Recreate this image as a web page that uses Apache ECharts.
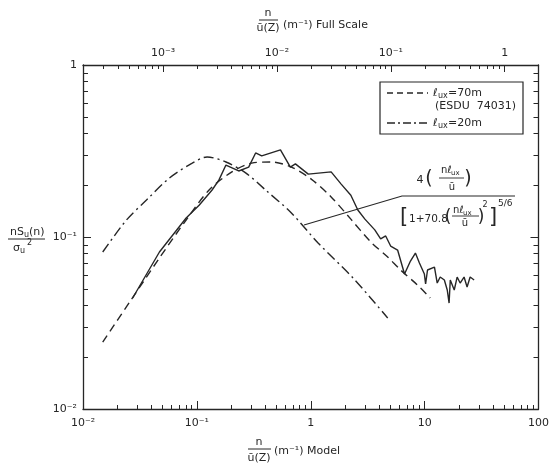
<!DOCTYPE html>
<html><head><meta charset="utf-8">
<script src="https://cdn.jsdelivr.net/npm/echarts@6/dist/echarts.min.js"></script>
<style>html,body{margin:0;padding:0;background:#fff}#c{width:552px;height:467px}</style>
</head><body><div id="c"></div>
<script>
// ---- data ----
// model-scale frequency n/u(Z) [1/m] vs normalised spectrum nSu(n)/sigma_u^2
const measX = [0.0273,0.0469,0.0805,0.1046,0.136,0.156,0.180,0.233,0.285,0.328,0.371,0.542,0.662,0.733,0.951,1.51,1.85,2.25,2.59,2.99,3.65,4.11,4.55,5.03,5.79,6.66,7.51,8.30,9.00,9.95,10.2,10.6,12.2,12.9,13.7,14.9,15.8,16.4,16.8,18.2,19.3,20.5,22.2,23.6,25.1,27.2];
const measY = [0.0442,0.0818,0.129,0.153,0.1876,0.214,0.262,0.242,0.255,0.308,0.296,0.321,0.255,0.266,0.232,0.239,0.203,0.175,0.1436,0.127,0.110,0.0974,0.1014,0.0886,0.0840,0.0609,0.0725,0.0807,0.0706,0.0609,0.0533,0.0643,0.0669,0.0540,0.0585,0.0562,0.0492,0.0413,0.0562,0.0492,0.0585,0.0540,0.0585,0.0512,0.0585,0.0562];
const lux70X = [0.0149,0.0257,0.0469,0.0805,0.128,0.203,0.303,0.453,0.676,1.01,1.51,2.25,3.37,4.74,6.15,8.65,11.2];
const lux70Y = [0.0245,0.0419,0.0755,0.1256,0.1876,0.239,0.269,0.273,0.255,0.217,0.171,0.127,0.0935,0.0765,0.0643,0.0526,0.0442];
const lux20X = [0.0149,0.0241,0.0361,0.0573,0.091,0.123,0.180,0.268,0.401,0.676,1.16,2.35,4.74];
const lux20Y = [0.0818,0.1256,0.164,0.220,0.269,0.292,0.273,0.236,0.1876,0.138,0.0923,0.0578,0.0338];
// axes
const bottomMajor = [0.01, 0.1, 1, 10, 100];
const topMajor = [0.001, 0.01, 0.1, 1];
const yMajor = [0.01, 0.1, 1];
const minorMult = [2,3,4,5,6,7,8,9];
const scaleRatio = 50.5; // model n/u divided by this gives full-scale n/u
const supLabels = {'-4':'10⁻⁴','-3':'10⁻³','-2':'10⁻²','-1':'10⁻¹','0':'1','1':'10','2':'100'};

// ---- build ----
const minorOf = decs => { const o=[]; decs.forEach(d=>minorMult.forEach(m=>o.push(+(d*m).toPrecision(6)))); return o; };
const fmt = v => supLabels[String(Math.round(Math.log10(v)))] || '';
const INK = '#262626';
const FONT = 'DejaVu Sans';
const zip = (a,b) => a.map((v,i)=>[v,b[i]]);

function ax(pos, min, max, ticks, len, labels, showLine, margin) {
  return {
    type:'log', logBase:10, position:pos, min:min, max:max,
    axisLine:{show:showLine, lineStyle:{color:INK, width:1.3}},
    axisTick:{show:true, inside:true, length:len, customValues:ticks, lineStyle:{color:INK, width:1}},
    axisLabel:{show:!!labels, customValues:ticks, formatter:fmt, color:INK, fontSize:11, fontFamily:FONT, margin:margin||8},
    splitLine:{show:false}, minorTick:{show:false}, minorSplitLine:{show:false}
  };
}
const xMin=0.01, xMax=100, yMin=0.01, yMax=1;
const topMin = xMin/scaleRatio, topMax = xMax/scaleRatio;

const xAxis = [
  ax('bottom', xMin, xMax, bottomMajor, 8, true, true, 9),
  ax('bottom', xMin, xMax, minorOf([0.01,0.1,1,10]), 4, false, false),
  ax('top', topMin, topMax, topMajor, 7, true, true, 6),
  ax('top', topMin, topMax, minorOf([0.0001,0.001,0.01,0.1,1]), 4, false, false)
];
const yAxis = [
  ax('left', yMin, yMax, yMajor, 8, true, true, 6),
  ax('left', yMin, yMax, minorOf([0.01,0.1]), 5, false, false),
  ax('right', yMin, yMax, yMajor, 8, false, true),
  ax('right', yMin, yMax, minorOf([0.01,0.1]), 5, false, false)
];

function T(x,y,text,size,align,extra){
  return Object.assign({type:'text', x:x, y:y, silent:true, z:100,
    style:{text:text, fill:INK, font:(size||11)+'px "'+FONT+'"', textAlign:align||'left', textVerticalAlign:'middle'}}, extra||{});
}
function L(x1,y1,x2,y2,w,dash){
  return {type:'line', silent:true, z:100, shape:{x1:x1,y1:y1,x2:x2,y2:y2}, style:{stroke:INK, lineWidth:w||1, lineDash:dash||null}};
}
function PL(points,w){
  return {type:'polyline', silent:true, z:100, shape:{points:points}, style:{stroke:INK, lineWidth:w||1, fill:null}};
}

const graphic = [
  // left axis title
  T(10,232,'nS',11), T(24,235,'u',8), T(29,232,'(n)',11),
  L(8,239,45,239,1),
  T(13,248,'σ',11), T(20,251,'u',8), T(27,243,'2',8),
  // top axis title
  T(268,13,'n',11,'center'), L(259,20,278,20,1), T(268,28,'ū(Z)',11,'center'),
  T(283,25,'(m⁻¹) Full Scale',11),
  // bottom axis title
  T(259,442,'n',11,'center'), L(248,449,271,449,1), T(259,458,'ū(Z)',11,'center'),
  T(274,451,'(m⁻¹) Model',11),
  // legend
  {type:'rect', silent:true, z:99, shape:{x:380,y:82,width:143,height:52}, style:{fill:'#fff', stroke:INK, lineWidth:1.2}},
  L(387,93,428,93,1.3,[6,4]),
  T(433,93,'ℓ',11), T(438,96,'ux',8), T(448,93,'=70m',11),
  T(435,106,'(ESDU  74031)',11),
  L(387,123,428,123,1.3,[8,3,2,3]),
  T(433,123,'ℓ',11), T(438,126,'ux',8), T(448,123,'=20m',11),
  // formula
  PL([[304,225],[402,196],[515,196]],1.1),
  T(420,180,'4',11,'center'),
  T(429,179,'(',19,'center'),
  T(441,170,'nℓ',10), T(451,173,'ux',7),
  L(439,178,464,178,0.9),
  T(452,187,'ū',10,'center'),
  T(468,179,')',19,'center'),
  T(404,218,'[',21,'center'),
  T(409,219,'1+70.8',10.5),
  T(448,218,'(',17,'center'),
  T(453,210,'nℓ',10), T(463,213,'ux',7),
  L(452,216,479,216,0.9),
  T(465,223,'ū',10,'center'),
  T(481,218,')',17,'center'),
  T(485,205,'2',8,'center'),
  T(493,218,']',21,'center'),
  T(498,204,'5/6',9)
];

const chart = echarts.init(document.getElementById('c'), null, {renderer:'canvas'});
chart.setOption({
  animation:false,
  backgroundColor:'#ffffff',
  grid:{left:83, right:10, top:65, bottom:58, containLabel:false},
  xAxis:xAxis, yAxis:yAxis,
  series:[
    {type:'line', name:'measured', xAxisIndex:0, yAxisIndex:0, data:zip(measX,measY), showSymbol:false, symbol:'none', lineStyle:{color:INK, width:1.4}},
    {type:'line', name:'Lux=70m', xAxisIndex:0, yAxisIndex:0, data:zip(lux70X,lux70Y), showSymbol:false, symbol:'none', smooth:0.3, lineStyle:{color:INK, width:1.4, type:[8,5]}},
    {type:'line', name:'Lux=20m', xAxisIndex:0, yAxisIndex:0, data:zip(lux20X,lux20Y), showSymbol:false, symbol:'none', smooth:0.3, lineStyle:{color:INK, width:1.4, type:[10,4,2,4]}}
  ],
  graphic:graphic
});
</script></body></html>
